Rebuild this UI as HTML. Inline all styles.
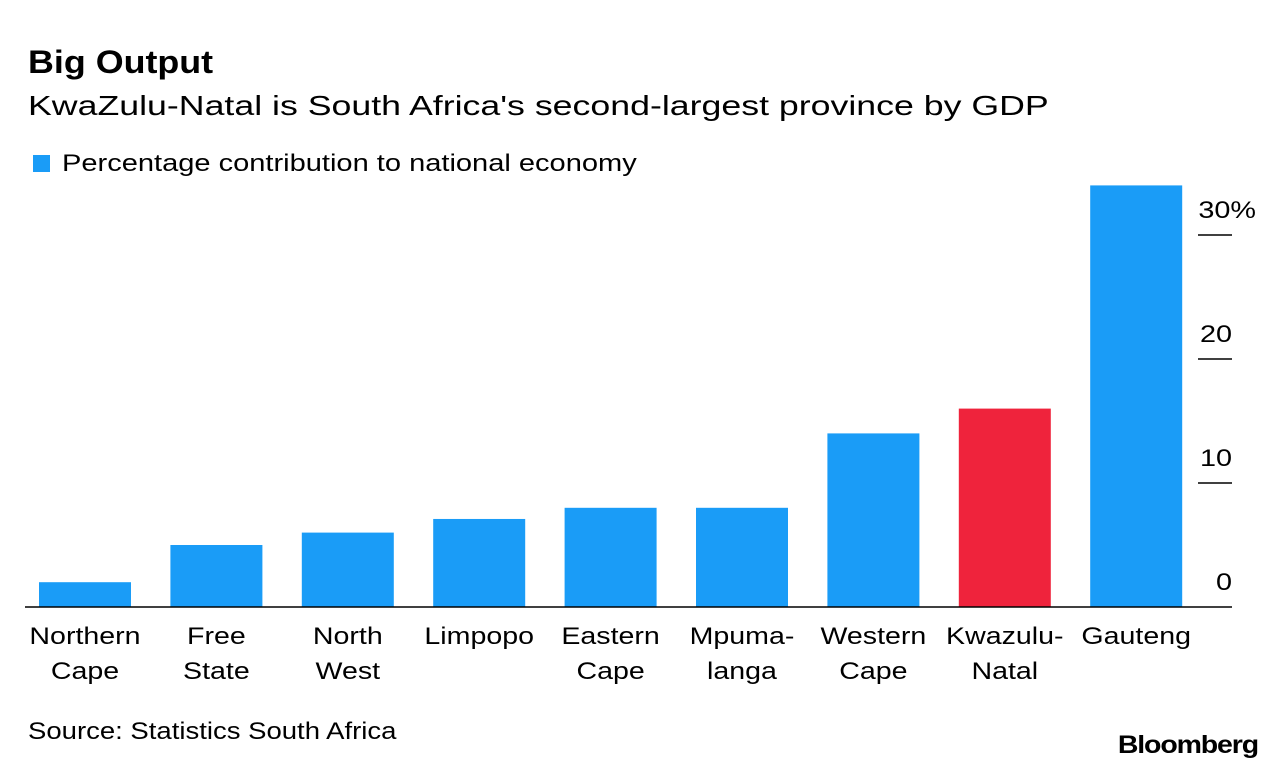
<!DOCTYPE html>
<html><head><meta charset="utf-8"><style>
body{margin:0;background:#fff;font-family:"Liberation Sans",sans-serif;}
svg text{font-family:"Liberation Sans",sans-serif;}
</style></head><body>
<svg width="1285" height="770" viewBox="0 0 1285 770" id="chart">
<text x="28" y="73" font-size="32" font-weight="bold" fill="#000" data-sx="1.12">Big Output</text>
<text x="28" y="115" font-size="28" fill="#000" data-sx="1.275">KwaZulu-Natal is South Africa's second-largest province by GDP</text>
<rect x="33" y="155" width="17" height="17" fill="#1a9cf7"/>
<text x="62" y="171" font-size="24" fill="#000" data-sx="1.21">Percentage contribution to national economy</text>
<g id="bars"></g>
<g id="axis"></g>
<text x="28" y="739" font-size="24" fill="#000" data-sx="1.146">Source: Statistics South Africa</text>
<text x="1258" y="753" font-size="25" font-weight="bold" text-anchor="end" fill="#000" letter-spacing="-1" data-sx="1.14">Bloomberg</text>
</svg>
<script>
const categories = [["Northern","Cape"],["Free","State"],["North","West"],["Limpopo"],["Eastern","Cape"],["Mpuma-","langa"],["Western","Cape"],["Kwazulu-","Natal"],["Gauteng"]];
const values = [2.0, 5.0, 6.0, 7.1, 8.0, 8.0, 14.0, 16.0, 34.0];
const highlight = [false,false,false,false,false,false,false,true,false];
const tickValues = [0,10,20,30];
const tickLabels = ["0","10","20","30%"];
const NS="http://www.w3.org/2000/svg";
const y0=607, pxPer=12.4;
function yScale(v){return y0 - v*pxPer;}
function xScale(i){return 39 + i*131.4;}
const bw=92;
const bars=document.getElementById('bars');
values.forEach((v,i)=>{
  const r=document.createElementNS(NS,'rect');
  r.setAttribute('x',xScale(i));r.setAttribute('width',bw);
  r.setAttribute('y',yScale(v));r.setAttribute('height',y0-yScale(v));
  r.setAttribute('fill',highlight[i]?'#ef233c':'#1a9cf7');
  
  
  bars.appendChild(r);
  const t=document.createElementNS(NS,'text');
  t.setAttribute('x',xScale(i)+bw/2);t.setAttribute('text-anchor','middle');
  t.setAttribute('font-size','24');t.setAttribute('fill','#000');
  t.setAttribute('data-sx','1.19');
  
  
  categories[i].forEach((line,j)=>{
    const s=document.createElementNS(NS,'tspan');
    s.setAttribute('x',xScale(i)+bw/2);s.setAttribute('y',644+j*35);
    s.textContent=line;t.appendChild(s);
  });
  bars.appendChild(t);
});
const ax=document.getElementById('axis');
const base=document.createElementNS(NS,'line');
base.setAttribute('x1',25);base.setAttribute('x2',1232);base.setAttribute('y1',y0);base.setAttribute('y2',y0);
base.setAttribute('stroke','#000');base.setAttribute('stroke-width','1.5');


ax.appendChild(base);
tickValues.forEach((v,i)=>{
  const y=yScale(v);
  if(v!==0){
    const l=document.createElementNS(NS,'line');
    l.setAttribute('x1',1198);l.setAttribute('x2',1232);l.setAttribute('y1',y);l.setAttribute('y2',y);
    l.setAttribute('stroke','#000');l.setAttribute('stroke-width','1.5');
    
    
    ax.appendChild(l);
  }
  const t=document.createElementNS(NS,'text');
  t.setAttribute('x', v===30?1256:1232);t.setAttribute('y',y-17);
  t.setAttribute('text-anchor','end');t.setAttribute('font-size','24');t.setAttribute('fill','#000');
  t.setAttribute('data-sx','1.2');
  
  
  t.textContent=tickLabels[i];ax.appendChild(t);
});
document.querySelectorAll('text[data-sx]').forEach(t=>{
  const f=parseFloat(t.getAttribute('data-sx'));
  const spans=t.querySelectorAll('tspan');
  const targets=spans.length?Array.from(spans):[t];
  targets.forEach(el=>{
    const len=el.getComputedTextLength();
    if(len>0){el.setAttribute('textLength',len*f);el.setAttribute('lengthAdjust','spacingAndGlyphs');}
  });
});
</script>
</body></html>
